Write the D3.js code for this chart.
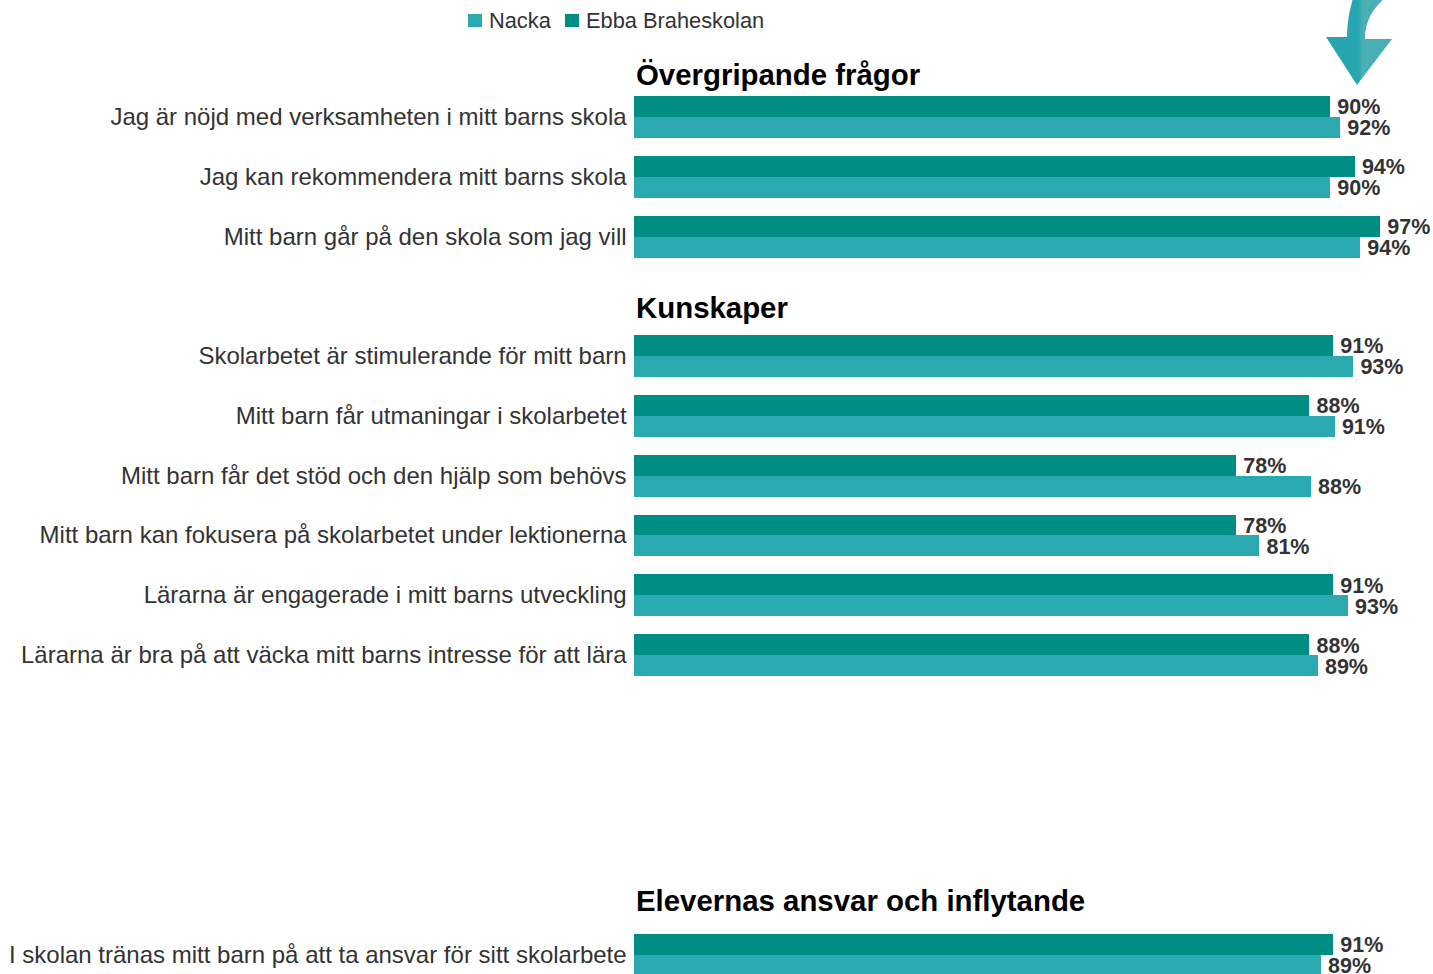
<!DOCTYPE html>
<html>
<head>
<meta charset="utf-8">
<script src="https://cdn.jsdelivr.net/npm/d3@7"></script>
<style>
html, body { margin: 0; padding: 0; background: #fff; overflow: hidden; }
svg { display: block; font-family: "Liberation Sans", Arial, sans-serif; }
.domain { display: none; }
.tick text { font-size: 24px; fill: #333; }
.heading { font-size: 29.4px; font-weight: bold; fill: #000; }
.value { font-size: 21.5px; font-weight: bold; fill: #333; }
.legend { font-size: 21.8px; fill: #333; }
</style>
</head>
<body>
<div id="chart"></div>
<script>
const seriesNames = ["Ebba Braheskolan", "Nacka"];
const legendOrder = ["Nacka", "Ebba Braheskolan"];

const headings = ["Övergripande frågor", "Kunskaper", "Elevernas ansvar och inflytande"];

const questions1 = [
    "Jag är nöjd med verksamheten i mitt barns skola",
    "Jag kan rekommendera mitt barns skola",
    "Mitt barn går på den skola som jag vill"
];
const ebba1 = [90.4, 93.6, 96.9];
const nacka1 = [91.7, 90.4, 94.3];

const questions2 = [
    "Skolarbetet är stimulerande för mitt barn",
    "Mitt barn får utmaningar i skolarbetet",
    "Mitt barn får det stöd och den hjälp som behövs",
    "Mitt barn kan fokusera på skolarbetet under lektionerna",
    "Lärarna är engagerade i mitt barns utveckling",
    "Lärarna är bra på att väcka mitt barns intresse för att lära"
];
const ebba2 = [90.8, 87.7, 78.2, 78.2, 90.8, 87.7];
const nacka2 = [93.4, 91.0, 87.9, 81.2, 92.7, 88.8];

const questions3 = ["I skolan tränas mitt barn på att ta ansvar för sitt skolarbete"];
const ebba3 = [90.8];
const nacka3 = [89.2];

const width = 1433, height = 974;
const left = 634;
const step = 59.85;
const colors = d3.scaleOrdinal()
    .domain(seriesNames)
    .range(["#008d84", "#2aa9b1"]);

const svg = d3.select("#chart").append("svg")
    .attr("width", width)
    .attr("height", height);

const x = d3.scaleLinear().domain([0, 100]).range([left, left + 770]);
const fmt = d => d3.format(".0f")(d) + "%";

// legend
const legendX = [468, 565];
legendOrder.forEach((name, i) => {
    svg.append("rect")
        .attr("x", legendX[i])
        .attr("y", 14)
        .attr("width", 14)
        .attr("height", 13)
        .attr("fill", colors(name));
    svg.append("text")
        .attr("class", "legend")
        .attr("x", legendX[i] + 21)
        .attr("y", 28)
        .text(name);
});

function section(heading, headingY, top, questions, ebba, nacka) {
    svg.append("text")
        .attr("class", "heading")
        .attr("x", left + 2)
        .attr("y", headingY)
        .text(heading);

    // outer padding keeps the step the same for a section with a single row
    const y0 = d3.scaleBand()
        .domain(questions)
        .range([top - 0.15 * step, top + (questions.length - 0.15) * step])
        .paddingInner(0.3)
        .paddingOuter(0.15);
    const y1 = d3.scaleBand()
        .domain(seriesNames)
        .range([0, y0.bandwidth()]);

    const axis = svg.append("g")
        .attr("transform", `translate(${left},0)`)
        .call(d3.axisLeft(y0).tickSize(0).tickPadding(7.4));
    axis.selectAll(".tick text").attr("dy", "0.33em");

    const rows = questions.map((q, i) => ({q: q, vals: [ebba[i], nacka[i]]}));
    const groups = svg.selectAll(null)
        .data(rows)
        .enter()
        .append("g")
        .attr("transform", d => `translate(0,${y0(d.q)})`);

    const cells = groups.selectAll("g")
        .data(d => d.vals.map((v, i) => ({name: seriesNames[i], v: v})))
        .enter()
        .append("g");

    cells.append("rect")
        .attr("x", x(0))
        .attr("y", d => y1(d.name))
        .attr("width", d => x(d.v) - x(0))
        .attr("height", y1.bandwidth())
        .attr("shape-rendering", "crispEdges")
        .attr("fill", d => colors(d.name));

    cells.append("text")
        .attr("class", "value")
        .attr("x", d => x(d.v) + 7.2)
        .attr("y", d => y1(d.name) + y1.bandwidth() / 2 + 0.2)
        .attr("dy", "0.36em")
        .text(d => fmt(d.v));
}

section(headings[0], 85, 96, questions1, ebba1, nacka1);
section(headings[1], 318, 335, questions2, ebba2, nacka2);
section(headings[2], 911, 934, questions3, ebba3, nacka3);

// arrow picture top right
const defs = svg.append("defs");
const grad = defs.append("linearGradient").attr("id", "arrowFill");
grad.append("stop").attr("offset", "0").attr("stop-color", "#24a5ae");
grad.append("stop").attr("offset", "0.5").attr("stop-color", "#27a6b0");
grad.append("stop").attr("offset", "0.55").attr("stop-color", "#4cb0b5");
grad.append("stop").attr("offset", "1").attr("stop-color", "#45aeb3");
defs.append("filter").attr("id", "soft")
    .append("feGaussianBlur").attr("stdDeviation", 0.7);

svg.append("path")
    .attr("d", "M1353,-2 C1349,12 1347,24 1347,37 L1326,37 L1357,85 L1392,39 L1365,39 C1365,22 1372,9 1385,-2 Z")
    .attr("fill", "url(#arrowFill)")
    .attr("filter", "url(#soft)");
</script>
</body>
</html>
